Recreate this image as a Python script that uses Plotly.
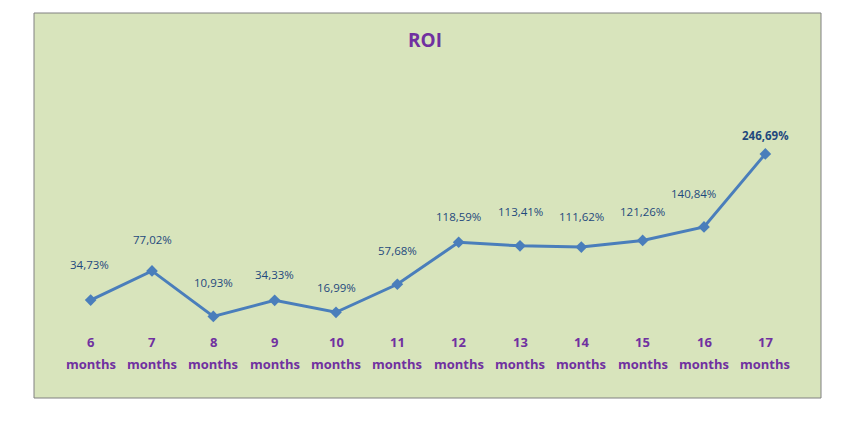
import plotly.graph_objects as go

meses = ['6', '7', '8', '9', '10', '11', '12', '13', '14', '15', '16', '17']
roi = [34.73, 77.02, 10.93, 34.33, 16.99, 57.68, 118.59, 113.41, 111.62, 121.26, 140.84, 246.69]
rotulos = ['34,73%', '77,02%', '10,93%', '34,33%', '16,99%', '57,68%',
           '118,59%', '113,41%', '111,62%', '121,26%', '140,84%', '246,69%']

# deslocamento dos rótulos (px) como no gráfico original
desloc_y = [36, 31, 34, 26, 25, 34, 26, 34, 31, 29, 33, 18]
desloc_x = [-1, 0, 0, 0, 0, 0, 0, 0, 0, 0, -11, 0]

fonte = 'Open Sans'
roxo = '#7030A0'

fig = go.Figure()
fig.add_trace(go.Scatter(
    x=meses, y=roi, mode='lines+markers',
    line=dict(color='#4A7EBB', width=3),
    marker=dict(symbol='diamond', size=9, color='#4A7EBB'),
    hoverinfo='skip', showlegend=False, cliponaxis=False))

anots = []
for i, m in enumerate(meses):
    anots.append(dict(x=i, y=roi[i], text=rotulos[i], showarrow=False,
                      xshift=desloc_x[i], yshift=desloc_y[i], yanchor='middle',
                      font=dict(family=fonte, size=11.5, color='#1F497D')))
    anots.append(dict(x=i, y=-0.068, yref='paper', yanchor='middle', text='<b>' + m + '</b>',
                      showarrow=False, font=dict(family=fonte, size=13, color=roxo)))
    anots.append(dict(x=i, y=-0.152, yref='paper', yanchor='middle', text='<b>months</b>',
                      showarrow=False, font=dict(family=fonte, size=13, color=roxo)))
# último rótulo em negrito
anots[-3]['text'] = '<b>' + rotulos[-1] + '</b>'

fig.update_layout(
    width=850, height=422,
    margin=dict(l=52, r=62, t=52, b=106),
    paper_bgcolor='white', plot_bgcolor='rgba(0,0,0,0)',
    title=dict(text='<b>ROI</b>', x=417 / 850, xanchor='center', y=1 - 32 / 422, yanchor='middle',
               font=dict(family=fonte, size=19, color=roxo)),
    xaxis=dict(type='category', range=[-0.5, 11.5], showgrid=False, zeroline=False,
               showticklabels=False, showline=False),
    yaxis=dict(range=[0, 383], visible=False),
    annotations=anots,
    shapes=[dict(type='rect', xref='paper', yref='paper',
                 x0=(33 - 59) / 736, x1=(820 - 59) / 736,
                 y0=-74 / 264, y1=311 / 264,
                 fillcolor='#D8E4BC', line=dict(color='#808080', width=1),
                 layer='below')],
)

fig.write_html('out.html')
